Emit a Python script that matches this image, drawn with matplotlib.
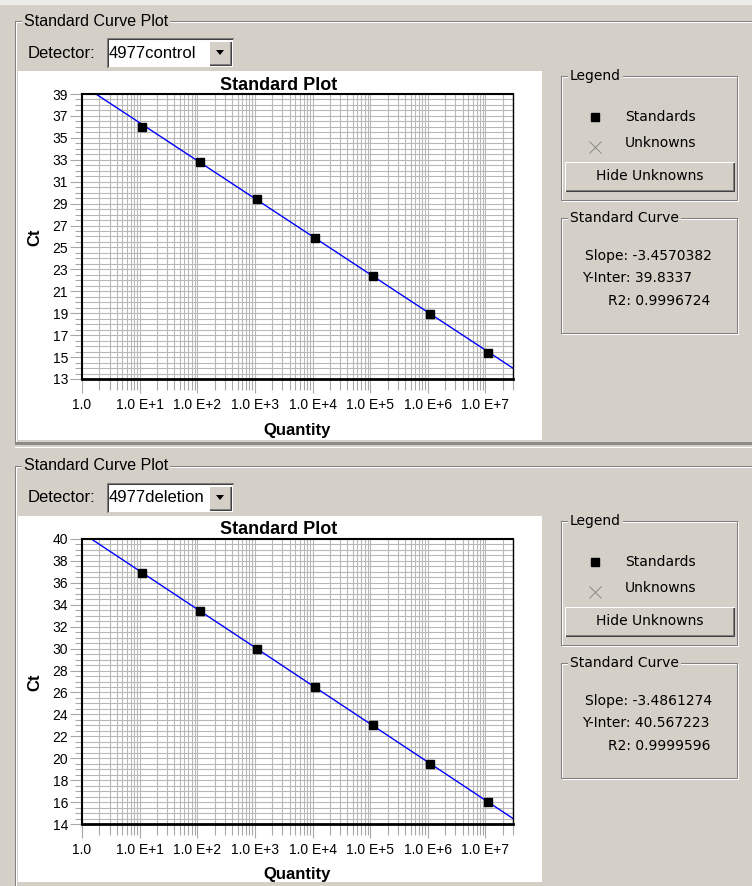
import numpy as np
import matplotlib.pyplot as plt
from matplotlib.patches import Rectangle, Polygon
from matplotlib.lines import Line2D
from matplotlib.ticker import LogLocator, MultipleLocator, NullFormatter

W, H = 752, 886
GUI = '#d4d0c8'

# data
quantities = [1.1e1, 1.1e2, 1.1e3, 1.1e4, 1.1e5, 1.1e6, 1.1e7]
x_ticks = [1, 1e1, 1e2, 1e3, 1e4, 1e5, 1e6, 1e7]
x_labels = ['1.0', '1.0 E+1', '1.0 E+2', '1.0 E+3', '1.0 E+4', '1.0 E+5', '1.0 E+6', '1.0 E+7']
detectors = ['4977control', '4977deletion']
ct_control = [36.0, 32.8, 29.4, 25.9, 22.4, 18.9, 15.4]
ct_deletion = [36.9, 33.4, 30.0, 26.5, 23.0, 19.5, 16.0]
slopes = [-3.4570382, -3.4861274]
intercepts = [39.8337, 40.567223]
r2_values = [0.9996724, 0.9999596]
y_ranges = [(13, 39), (14, 40)]

fig = plt.figure(figsize=(W / 100, H / 100), dpi=100, facecolor=GUI)


def fx(x):
    return x / W


def fy(y):
    return 1 - y / H


def box(x0, y0, x1, y1, **kw):
    fig.add_artist(Rectangle((fx(x0), fy(y1)), (x1 - x0) / W, (y1 - y0) / H,
                             transform=fig.transFigure, **kw))


def line(xs, ys, color, lw=0.75):
    fig.add_artist(Line2D([fx(x) for x in xs], [fy(y) for y in ys],
                          transform=fig.transFigure, color=color, lw=lw))


def etched(x0, y0, x1, y1):
    # windows style group box frame
    for off, c in ((1, 'white'), (0, '#808080')):
        line([x0 + off, x1 + off, x1 + off, x0 + off, x0 + off],
             [y0 + off, y0 + off, y1 + off, y1 + off, y0 + off], c)


def raised(x0, y0, x1, y1):
    box(x0, y0, x1, y1, fc=GUI, ec='none')
    line([x0, x1, x1], [y1, y1, y0], '#404040')
    line([x0 + 1, x1 - 1, x1 - 1], [y1 - 1, y1 - 1, y0 + 1], '#808080')
    line([x0, x0, x1], [y1, y0, y0], 'white')


def gtext(x, y, s, size=10, family='DejaVu Sans', **kw):
    fig.text(fx(x), fy(y), s, fontsize=size, family=family, va='center', **kw)


def group_label(x, y, s, size=10, family='DejaVu Sans'):
    gtext(x, y, s, size=size, family=family,
          bbox=dict(fc=GUI, ec='none', pad=1.5))


# top strip
box(0, 0, W, 5, fc='#ecebe8', ec='none')

for i, det in enumerate(detectors):
    dy = 445 * i
    ct = [ct_control, ct_deletion][i]

    # outer group box
    top = 21 + dy
    line([W, 15, 15], [top, top, 441 + dy if i == 0 else H], '#808080')
    line([W, 16, 16], [top + 1, top + 1, 441 + dy if i == 0 else H], 'white')
    group_label(24, top, 'Standard Curve Plot', size=11.5, family='Liberation Sans')

    # detector combo box
    gtext(28, 53 + dy, 'Detector:', size=12, family='Liberation Sans')
    box(107, 38 + dy, 233, 67 + dy, fc='white', ec='none')
    line([107, 107, 233], [67 + dy, 38 + dy, 38 + dy], '#808080')
    line([108, 108, 232], [66 + dy, 39 + dy, 39 + dy], '#404040')
    gtext(109, 53 + dy, det, size=12, family='Liberation Sans')
    raised(209, 41 + dy, 231, 65 + dy)
    fig.add_artist(Polygon([(fx(216), fy(50 + dy)), (fx(224), fy(50 + dy)),
                            (fx(220), fy(55 + dy))], closed=True,
                           transform=fig.transFigure, fc='black', ec='none'))

    # white plot area
    box(18, 71 + dy, 542, 440 + dy if i == 0 else 882, fc='white', ec='none')

    # chart
    ax = fig.add_axes([fx(82), fy(379 + dy), (513 - 82) / W, 285 / H])
    ax.set_zorder(10)
    ax.set_facecolor('white')
    ax.set_xscale('log')
    ax.set_xlim(1, 3e7)
    lo, hi = y_ranges[i]
    ax.set_ylim(lo, hi)
    ax.set_xticks(x_ticks)
    ax.set_xticklabels(x_labels)
    ax.xaxis.set_minor_locator(LogLocator(base=10, subs=np.arange(2, 10), numticks=30))
    ax.xaxis.set_minor_formatter(NullFormatter())
    ax.set_yticks(np.arange(lo, hi + 1, 2))
    ax.yaxis.set_minor_locator(MultipleLocator(0.5))
    ax.grid(which='both', color='#b8b8b8', lw=0.8)
    ax.set_axisbelow(True)
    ax.tick_params(axis='x', which='major', length=10, width=0.8, color='#a8a8a8',
                   pad=4, labelsize=10)
    ax.tick_params(axis='x', which='minor', length=8, width=0.8, color='#a8a8a8')
    ax.tick_params(axis='y', which='major', length=9, width=0.8, color='#a8a8a8',
                   pad=1, labelsize=10)
    ax.tick_params(axis='y', which='minor', length=5, width=0.8, color='#a8a8a8')
    for lab in ax.get_xticklabels() + ax.get_yticklabels():
        lab.set_family('Liberation Sans')
    ax.spines['top'].set_linewidth(1.5)
    ax.spines['bottom'].set_linewidth(2)
    ax.spines['right'].set_linewidth(1)
    ax.spines['left'].set_linestyle((0, (1, 1)))
    ax.spines['left'].set_linewidth(1.5)

    xs = np.logspace(0, np.log10(3e7), 300)
    ax.plot(xs, intercepts[i] + slopes[i] * np.log10(xs), color='#0000ff', lw=1)
    ax.plot(quantities, ct, 's', color='black', ms=5.5, zorder=5, clip_on=False)

    fig.text(fx(279), fy(85 + dy), 'Standard Plot', fontsize=13, weight='bold',
             family='Liberation Sans', ha='center', va='center')
    fig.text(fx(297), fy(430 + dy), 'Quantity', fontsize=12, weight='bold',
             family='Liberation Sans', ha='center', va='center')
    fig.text(fx(35), fy(237 + dy), 'Ct', fontsize=12, weight='bold', rotation=90,
             family='Liberation Sans', ha='center', va='center')

    # legend group
    etched(561, 76 + dy, 737, 200 + dy)
    group_label(570, 76 + dy, 'Legend')
    fig.add_artist(Line2D([fx(595)], [fy(117 + dy)], marker='s', ms=5.5, color='black',
                          transform=fig.transFigure))
    gtext(625, 117 + dy, 'Standards')
    fig.add_artist(Line2D([fx(595)], [fy(147 + dy)], marker='x', ms=8, mew=0.7,
                          color='#8a8a7e', transform=fig.transFigure))
    gtext(625, 143 + dy, 'Unknowns')
    raised(565, 162 + dy, 734, 191 + dy)
    gtext(650, 176 + dy, 'Hide Unknowns', ha='center')

    # standard curve group
    etched(561, 218 + dy, 737, 333 + dy)
    group_label(570, 218 + dy, 'Standard Curve')
    gtext(585, 256 + dy, f'Slope: {slopes[i]}')
    gtext(582, 278 + dy, f'Y-Inter: {intercepts[i]}')
    gtext(608, 301 + dy, f'R2: {r2_values[i]}')

# separator between the two panels
box(15, 442, W, 445, fc='#8c8a86', ec='none')
line([15, W], [446.5, 446.5], 'white')

fig.savefig('out.png', dpi=100, facecolor=GUI)
